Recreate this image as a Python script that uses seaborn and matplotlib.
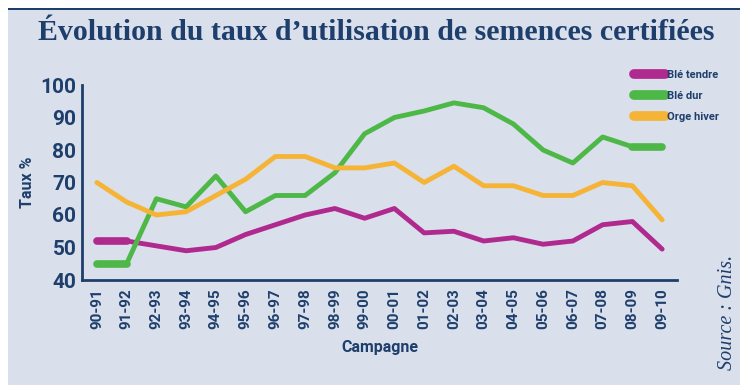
import matplotlib
matplotlib.use("Agg")
import matplotlib.pyplot as plt
from matplotlib.patches import Rectangle
import pandas as pd
import seaborn as sns

campagnes = ["90-91", "91-92", "92-93", "93-94", "94-95", "95-96", "96-97", "97-98",
             "98-99", "99-00", "00-01", "01-02", "02-03", "03-04", "04-05", "05-06",
             "06-07", "07-08", "08-09", "09-10"]
ble_tendre = [52, 52, 50.5, 49, 50, 54, 57, 60, 62, 59, 62, 54.5, 55, 52, 53, 51, 52, 57, 58, 49.5]
ble_dur = [45, 45, 65, 62.5, 72, 61, 66, 66, 73, 85, 90, 92, 94.5, 93, 88, 80, 76, 84, 81, 81]
orge_hiver = [70, 64, 60, 61, 66, 71, 78, 78, 74.5, 74.5, 76, 70, 75, 69, 69, 66, 66, 70, 69, 58.5]

series = ["Blé tendre", "Blé dur", "Orge hiver"]
colors = ["#B0298F", "#4DB848", "#F6B437"]
navy = "#1E3F6C"
bg = "#D9DFEB"

rows = []
for name, vals in zip(series, [ble_tendre, ble_dur, orge_hiver]):
    for i, v in enumerate(vals):
        rows.append({"pos": i, "campagne": campagnes[i], "serie": name, "taux": v})
df = pd.DataFrame(rows)

sns.set_style("white")
plt.rcParams["font.family"] = ["Roboto", "DejaVu Sans"]

fig = plt.figure(figsize=(7.47, 3.91), dpi=100)
fig.patch.set_facecolor("white")
fig.patches.append(Rectangle((8 / 747, 1 - 385 / 391), 732 / 747, 377 / 391,
                             transform=fig.transFigure, facecolor=bg, edgecolor="none", zorder=-2))
fig.patches.append(Rectangle((8 / 747, 1 - 10 / 391), 732 / 747, 2 / 391,
                             transform=fig.transFigure, facecolor=navy, edgecolor="none", zorder=-1))

ax = fig.add_axes([82 / 747, 1 - 280 / 391, 595 / 747, 195 / 391])
ax.set_facecolor("none")

palette = dict(zip(series, colors))
sns.lineplot(data=df, x="pos", y="taux", hue="serie", palette=palette, linewidth=3.5,
             legend=False, ax=ax, solid_capstyle="round")

# thicker end segments as in the original
thick = df[((df.serie == "Blé tendre") & (df.pos <= 1)) |
           ((df.serie == "Blé dur") & (df.pos <= 1)) |
           ((df.serie == "Blé dur") & (df.pos >= 18))].copy()
thick["grp"] = thick["serie"] + (thick["pos"] > 5).astype(str)
sns.lineplot(data=thick, x="pos", y="taux", hue="serie", units="grp", estimator=None,
             palette=palette, linewidth=5.5, legend=False, ax=ax, solid_capstyle="round")

ax.set_xlim(-0.5, len(campagnes) - 0.5)
ax.set_ylim(40, 100)
ax.set_yticks(range(40, 101, 10))
ax.set_xticks(range(len(campagnes)))
ax.set_xticklabels(campagnes, rotation=90, fontsize=11, fontweight="bold", color=navy)
ax.set_xticks([i - 0.5 for i in range(len(campagnes) + 1)], minor=True)
ax.tick_params(axis="x", which="major", length=0, pad=6)
ax.tick_params(axis="x", which="minor", direction="in", length=5, width=1.5, color=navy)
ax.tick_params(axis="y", direction="in", length=15, width=2, color=navy, labelsize=15,
               labelcolor=navy, pad=4)
for lab in ax.get_yticklabels():
    lab.set_fontweight("bold")

for side in ["top", "right"]:
    ax.spines[side].set_visible(False)
for side in ["left", "bottom"]:
    ax.spines[side].set_color(navy)
    ax.spines[side].set_linewidth(2)

ax.set_xlabel("Campagne", fontsize=11.5, fontweight="bold", color=navy, labelpad=8)
ax.set_ylabel("Taux %", fontsize=11.5, fontweight="bold", color=navy, labelpad=4)

handles = [plt.Line2D([], [], color=c, linewidth=7) for c in colors]
fig.legend(handles, series, loc="upper left", bbox_to_anchor=(624 / 747, 1 - 60 / 391),
           frameon=False, handlelength=2.8, handletextpad=0.2,
           labelspacing=1.0, prop={"weight": "bold", "size": 8})
for t in fig.legends[0].get_texts():
    t.set_color(navy)

fig.text(376 / 747, 1 - 33 / 391, "Évolution du taux d’utilisation de semences certifiées",
         ha="center", va="center", fontsize=21.5, fontweight="bold", color=navy,
         family="Liberation Serif")
fig.text(727 / 747, 1 - 312 / 391, "Source : Gnis.", rotation=90, ha="center", va="center",
         fontsize=14.5, style="italic", color=navy, family="Liberation Serif")

fig.savefig("out.png", dpi=100)
